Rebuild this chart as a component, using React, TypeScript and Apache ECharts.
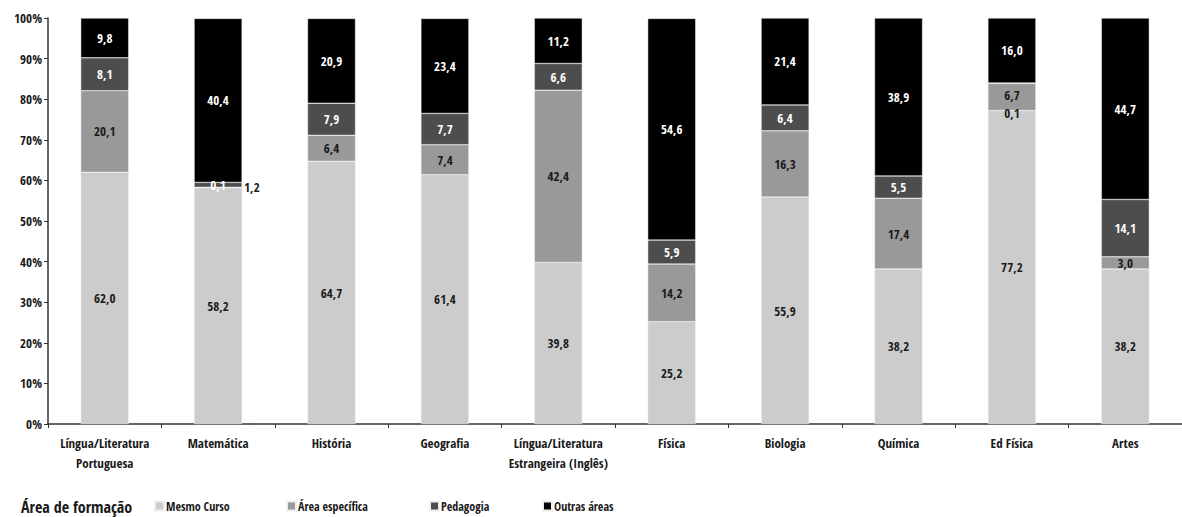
import React, { useEffect, useRef } from "react";
import * as echarts from "echarts";

const categories = [
  "Língua/Literatura\nPortuguesa",
  "Matemática",
  "História",
  "Geografia",
  "Língua/Literatura\nEstrangeira (Inglês)",
  "Física",
  "Biologia",
  "Química",
  "Ed Física",
  "Artes",
];
const mesmoCurso = [62.0, 58.2, 64.7, 61.4, 39.8, 25.2, 55.9, 38.2, 77.2, 38.2];
const areaEspecifica = [20.1, 0.1, 6.4, 7.4, 42.4, 14.2, 16.3, 17.4, 6.7, 3.0];
const pedagogia = [8.1, 1.2, 7.9, 7.7, 6.6, 5.9, 6.4, 5.5, 0.1, 14.1];
const outrasAreas = [9.8, 40.4, 20.9, 23.4, 11.2, 54.6, 21.4, 38.9, 16.0, 44.7];
const yTicks = [0, 10, 20, 30, 40, 50, 60, 70, 80, 90, 100];

const seriesNames = ["Mesmo Curso", "Área específica", "Pedagogia", "Outras áreas"];
const legendTitle = "Área de formação";
const colors = ["#cccccc", "#999999", "#4d4d4d", "#000000"];
const labelColors = ["#1a1a1a", "#1a1a1a", "#ffffff", "#ffffff"];
const legendLefts = [154, 286, 429, 542];

const FONT = "'Open Sans Condensed', 'Roboto Condensed', sans-serif";
const fmt = (v: number) => v.toFixed(1).replace(".", ",");

export default function App() {
  const ref = useRef<HTMLDivElement>(null);
  useEffect(() => {
    if (!ref.current) return;
    const chart = echarts.init(ref.current, null, { renderer: "svg" });
    const datasets = [mesmoCurso, areaEspecifica, pedagogia, outrasAreas];
    const series = datasets.map((arr, si) => ({
      name: seriesNames[si],
      type: "bar",
      stack: "total",
      barWidth: 48,
      itemStyle: { color: colors[si], borderColor: "#eeeeee", borderWidth: 0.5 },
      label: {
        show: true,
        position: "inside",
        formatter: (p: any) => fmt(p.value),
        color: labelColors[si],
        fontFamily: FONT,
        fontWeight: "bold",
        fontSize: 13,
      },
      data: arr.map((v, ci) => {
        // special label placements as in the reference
        if (si === 1 && ci === 1) {
          return { value: v, label: { color: "#ffffff", offset: [0, -3] } };
        }
        if (si === 2 && ci === 1) {
          return { value: v, label: { position: "right", color: "#1a1a1a", distance: 2, offset: [0, 2] } };
        }
        if (si === 1 && ci === 8) {
          return { value: v, label: { offset: [0, -2] } };
        }
        if (si === 2 && ci === 8) {
          return { value: v, label: { color: "#1a1a1a", offset: [0, 30] } };
        }
        return v;
      }),
    }));
    chart.setOption({
      animation: false,
      grid: { left: 48, right: -8.5, top: 18, bottom: 93, containLabel: false },
      legend: seriesNames.map((n, i) => ({
        data: [n],
        left: legendLefts[i],
        top: 500,
        padding: 0,
        itemWidth: 9,
        itemHeight: 9,
        itemGap: 4,
        icon: "rect",
        textStyle: { fontFamily: FONT, fontWeight: "bold", fontSize: 12, color: "#1a1a1a", padding: [0, 0, 0, -3] },
      })),
      graphic: [
        {
          type: "text",
          left: 21,
          top: 499,
          style: { text: legendTitle, fontFamily: FONT, fontWeight: "bold", fontSize: 16, fill: "#1a1a1a" },
        },
      ],
      xAxis: {
        type: "category",
        data: categories,
        axisLine: { lineStyle: { color: "#333", width: 1.5 } },
        axisTick: { show: true, alignWithLabel: false, lineStyle: { color: "#333" }, length: 4 },
        axisLabel: {
          interval: 0,
          fontFamily: FONT,
          fontWeight: "bold",
          fontSize: 13,
          color: "#1a1a1a",
          lineHeight: 20,
          margin: 9,
        },
      },
      yAxis: {
        type: "value",
        min: 0,
        max: 100,
        interval: 10,
        splitLine: { show: false },
        axisLine: { show: true, lineStyle: { color: "#333", width: 1.5 } },
        axisTick: { show: true, lineStyle: { color: "#333" }, length: 4 },
        axisLabel: {
          formatter: (v: number) => (yTicks.includes(v) ? v + "%" : ""),
          fontFamily: FONT,
          fontWeight: "bold",
          fontSize: 13,
          color: "#1a1a1a",
          margin: 6,
        },
      },
      series,
    });
    return () => chart.dispose();
  }, []);
  return (
    <div
      ref={ref}
      style={{ position: "absolute", left: 0, top: 0, width: 1182, height: 517, background: "#fff" }}
    />
  );
}
